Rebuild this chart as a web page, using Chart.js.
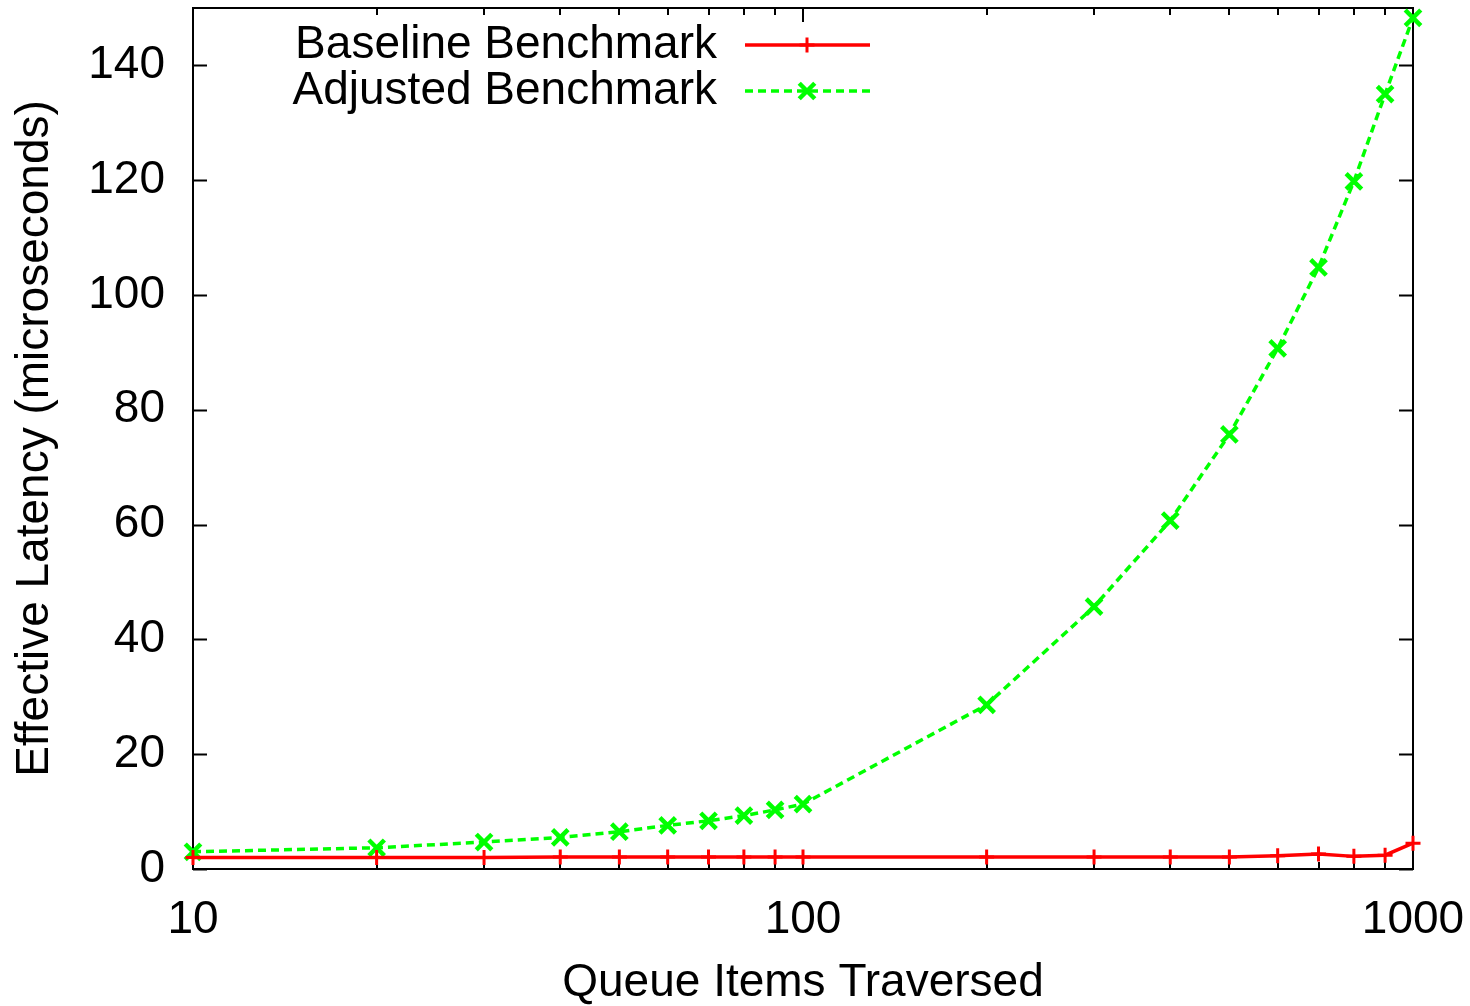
<!DOCTYPE html>
<html><head><meta charset="utf-8">
<script src="https://cdn.jsdelivr.net/npm/chart.js@4.4.0/dist/chart.umd.min.js"></script>
<style>html,body{margin:0;padding:0;background:#fff;overflow:hidden}</style>
</head><body>
<canvas id="c" width="1470" height="1006"></canvas>
<script>
const queueItems = [10,20,30,40,50,60,70,80,90,100,200,300,400,500,600,700,800,900,1000];
const baselineLatency = [2.0,2.0,2.0,2.1,2.1,2.1,2.1,2.1,2.1,2.1,2.1,2.1,2.1,2.1,2.3,2.6,2.2,2.4,4.5];
const adjustedLatency = [3.0,3.7,4.7,5.5,6.5,7.6,8.4,9.3,10.3,11.3,28.6,45.7,60.7,75.7,90.7,104.8,119.8,135.0,148.3];
const seriesNames = ['Baseline Benchmark','Adjusted Benchmark'];
const xMajorTicks = [10,100,1000];
const xMinorTicks = [20,30,40,50,60,70,80,90,200,300,400,500,600,700,800,900];
const yTicks = [0,20,40,60,80,100,120,140];
const xTitle = 'Queue Items Traversed';
const yTitle = 'Effective Latency (microseconds)';

const FONT = "'Liberation Sans', Arial, sans-serif";
const FS = 46;

const framePlugin = {
  id: 'frame',
  beforeDatasetsDraw(chart) {
    const ctx = chart.ctx, a = chart.chartArea, xs = chart.scales.x, ys = chart.scales.y;
    ctx.save();
    ctx.strokeStyle = '#000';
    ctx.lineWidth = 2;
    ctx.beginPath();
    yTicks.forEach(v => {
      const p = Math.round(ys.getPixelForValue(v)) + 0.5;
      ctx.moveTo(a.left, p); ctx.lineTo(a.left + 14, p);
      ctx.moveTo(a.right, p); ctx.lineTo(a.right - 14, p);
    });
    xMajorTicks.forEach(v => {
      const p = Math.round(xs.getPixelForValue(v));
      ctx.moveTo(p, a.bottom); ctx.lineTo(p, a.bottom - 14);
      ctx.moveTo(p, a.top); ctx.lineTo(p, a.top + 14);
    });
    xMinorTicks.forEach(v => {
      const p = Math.round(xs.getPixelForValue(v));
      ctx.moveTo(p, a.bottom); ctx.lineTo(p, a.bottom - 7);
      ctx.moveTo(p, a.top); ctx.lineTo(p, a.top + 7);
    });
    ctx.stroke();
    ctx.strokeRect(a.left, a.top, a.right - a.left, a.bottom - a.top);
    ctx.restore();
  }
};

function drawMarker(ctx, style, x, y, r, w, color) {
  ctx.save();
  ctx.strokeStyle = color; ctx.lineWidth = w; ctx.setLineDash([]);
  ctx.beginPath();
  if (style === 'cross') {
    ctx.moveTo(x - r, y); ctx.lineTo(x + r, y);
    ctx.moveTo(x, y - r); ctx.lineTo(x, y + r);
  } else {
    const d = r * Math.SQRT1_2;
    ctx.moveTo(x - d, y - d); ctx.lineTo(x + d, y + d);
    ctx.moveTo(x - d, y + d); ctx.lineTo(x + d, y - d);
  }
  ctx.stroke();
  ctx.restore();
}

const legendPlugin = {
  id: 'gpLegend',
  afterDatasetsDraw(chart) {
    const ctx = chart.ctx;
    const rows = [45, 91];
    chart.data.datasets.forEach((ds, i) => {
      const y = rows[i];
      ctx.save();
      ctx.font = FS + 'px ' + FONT;
      ctx.fillStyle = '#000';
      ctx.textAlign = 'right';
      ctx.textBaseline = 'middle';
      ctx.fillText(ds.label, 717, y);
      ctx.strokeStyle = ds.borderColor;
      ctx.lineWidth = ds.borderWidth;
      ctx.setLineDash(ds.borderDash || []);
      ctx.beginPath();
      ctx.moveTo(745, y); ctx.lineTo(870, y);
      ctx.stroke();
      ctx.restore();
      drawMarker(ctx, ds.pointStyle, 807, y, ds.pointRadius, ds.pointBorderWidth, ds.borderColor);
    });
  }
};

function zeroPad(s) { s.paddingTop = 0; s.paddingBottom = 0; s.paddingLeft = 0; s.paddingRight = 0; }

new Chart(document.getElementById('c'), {
  type: 'line',
  data: {
    datasets: [
      {
        label: seriesNames[0],
        data: queueItems.map((x, i) => ({x, y: baselineLatency[i]})),
        borderColor: '#ff0000',
        backgroundColor: '#ff0000',
        borderWidth: 3.5,
        pointStyle: 'cross',
        pointRadius: 7.5,
        pointBorderWidth: 3,
        pointBorderColor: '#ff0000',
        tension: 0,
        clip: false,
        fill: false
      },
      {
        label: seriesNames[1],
        data: queueItems.map((x, i) => ({x, y: adjustedLatency[i]})),
        borderColor: '#00ff00',
        backgroundColor: '#00ff00',
        borderWidth: 3.5,
        borderDash: [8, 5],
        pointStyle: 'crossRot',
        pointRadius: 11,
        pointBorderWidth: 4.5,
        pointBorderColor: '#00ff00',
        tension: 0,
        clip: false,
        fill: false
      }
    ]
  },
  options: {
    responsive: false,
    animation: false,
    devicePixelRatio: 1,
    layout: { autoPadding: false, padding: { top: 8, right: 57, left: 0, bottom: 0 } },
    plugins: { legend: { display: false }, tooltip: { enabled: false } },
    scales: {
      x: {
        type: 'logarithmic',
        min: 10, max: 1000,
        grid: { display: false, drawTicks: false },
        border: { display: false },
        afterBuildTicks: s => { s.ticks = xMajorTicks.map(v => ({value: v})); },
        afterFit: s => { s.height = 137; zeroPad(s); },
        ticks: {
          autoSkip: false, maxRotation: 0, padding: 24,
          color: '#000', font: { family: FONT, size: FS },
          callback: v => String(v)
        },
        title: {
          display: true, text: xTitle, color: '#000',
          font: { family: FONT, size: FS, lineHeight: 1 },
          padding: { top: 1, bottom: 0 }
        }
      },
      y: {
        type: 'linear',
        min: 0, max: 150,
        grid: { display: false, drawTicks: false },
        border: { display: false },
        afterBuildTicks: s => { s.ticks = yTicks.map(v => ({value: v})); },
        afterFit: s => { s.width = 193; zeroPad(s); },
        ticks: {
          padding: 28, color: '#000', font: { family: FONT, size: FS },
          callback: v => String(v)
        },
        title: {
          display: true, text: yTitle, color: '#000',
          font: { family: FONT, size: FS, lineHeight: 1 },
          padding: { top: 12, bottom: 0 }
        }
      }
    }
  },
  plugins: [framePlugin, legendPlugin]
});
</script>
</body></html>
